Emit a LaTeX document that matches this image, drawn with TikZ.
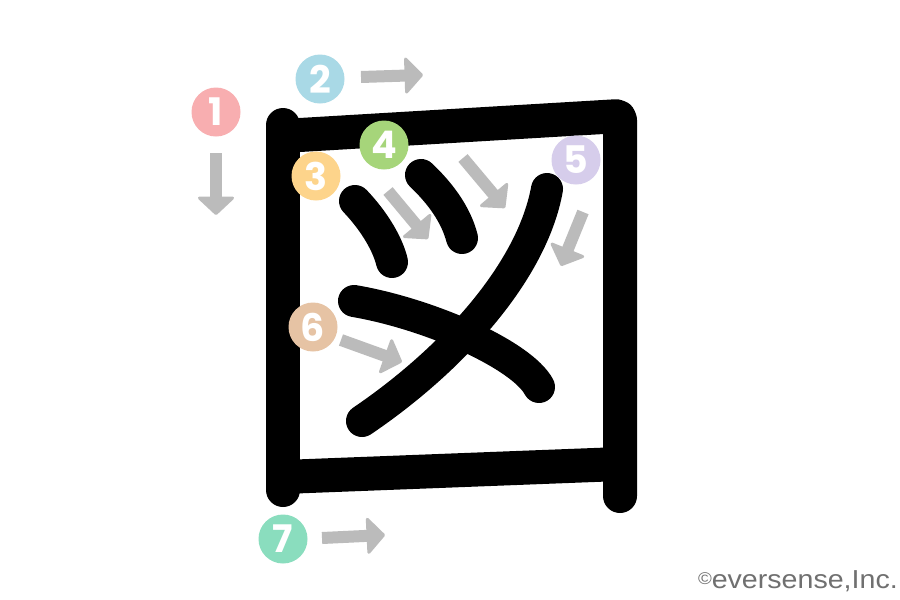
\documentclass[tikz,border=0pt]{standalone}
\usepackage{fontspec}
\usetikzlibrary{arrows.meta}
\newfontfamily\numfont{Poppins}
\newfontfamily\copyfont{Liberation Sans}
\definecolor{arrowgray}{HTML}{BBBBBB}
\definecolor{cOne}{HTML}{F8AEB0}
\definecolor{cTwo}{HTML}{A9D9E6}
\definecolor{cThree}{HTML}{FDD48B}
\definecolor{cFour}{HTML}{A6D57A}
\definecolor{cFive}{HTML}{D6CDEB}
\definecolor{cSix}{HTML}{E6C3A4}
\definecolor{cSeven}{HTML}{8ADDBE}
\definecolor{copygray}{HTML}{707070}
\tikzset{
  framestroke/.style={line width=34pt, line cap=round, line join=round, black},
  kanastroke/.style={line width=32pt, line cap=round, black},
  garrow/.style={draw=arrowgray, line width=12pt,
    -{Triangle[width=40pt,length=19pt,line width=3pt,round,fill=arrowgray]}},
  numcircle/.style={circle, minimum size=49pt, inner sep=0pt, text=white,
    font=\numfont\bfseries\fontsize{38}{38}\selectfont},
}
\begin{document}
\begin{tikzpicture}[x=1pt,y=-1pt]
\useasboundingbox[fill=white] (0,0) rectangle (900,600);
% frame
\draw[framestroke] (283,125) -- (283,490);
\draw[framestroke, rounded corners=4pt] (283,136) -- (620,116) -- (620,496);
\draw[framestroke] (283,477) -- (620,464);
% inner strokes
\draw[kanastroke] (355,201) .. controls (375,222) and (388,245) .. (392,262);
\draw[kanastroke] (421,175) .. controls (441,194) and (456,215) .. (462,238);
\draw[kanastroke] (547,189) .. controls (532,272) and (452,360) .. (362,421);
\draw[kanastroke] (354,301) .. controls (430,314) and (522,355) .. (539,387);
% arrows
\coordinate (a1s) at (216,153); \coordinate (a1e) at (216,215);
\coordinate (a2s) at (361,77);  \coordinate (a2e) at (423,75);
\coordinate (a3s) at (388,191); \coordinate (a3e) at (428,239);
\coordinate (a4s) at (463,158); \coordinate (a4e) at (505,208);
\coordinate (a5s) at (583,212); \coordinate (a5e) at (561,266);
\coordinate (a6s) at (341,340); \coordinate (a6e) at (402,362);
\coordinate (a7s) at (322,538); \coordinate (a7e) at (385,535);
\foreach \i in {1,...,7} \draw[garrow] (a\i s) -- (a\i e);
% number circles
\node[numcircle, fill=cOne]   (n1) at (216,112) {1};
\node[numcircle, fill=cTwo]   (n2) at (320,79)  {2};
\node[numcircle, fill=cThree] (n3) at (316,176) {3};
\node[numcircle, fill=cFour]  (n4) at (384,145) {4};
\node[numcircle, fill=cFive]  (n5) at (576,160) {5};
\node[numcircle, fill=cSix]   (n6) at (313,327) {6};
\node[numcircle, fill=cSeven] (n7) at (283,539) {7};
% copyright
\node[anchor=base east, inner sep=0pt, text=copygray, xscale=1.1,
  font=\copyfont\fontsize{26}{26}\selectfont] (copy) at (898,588)
  {\raisebox{4pt}{\fontsize{17}{17}\selectfont\textcopyright}eversense,Inc.};
\end{tikzpicture}
\end{document}
